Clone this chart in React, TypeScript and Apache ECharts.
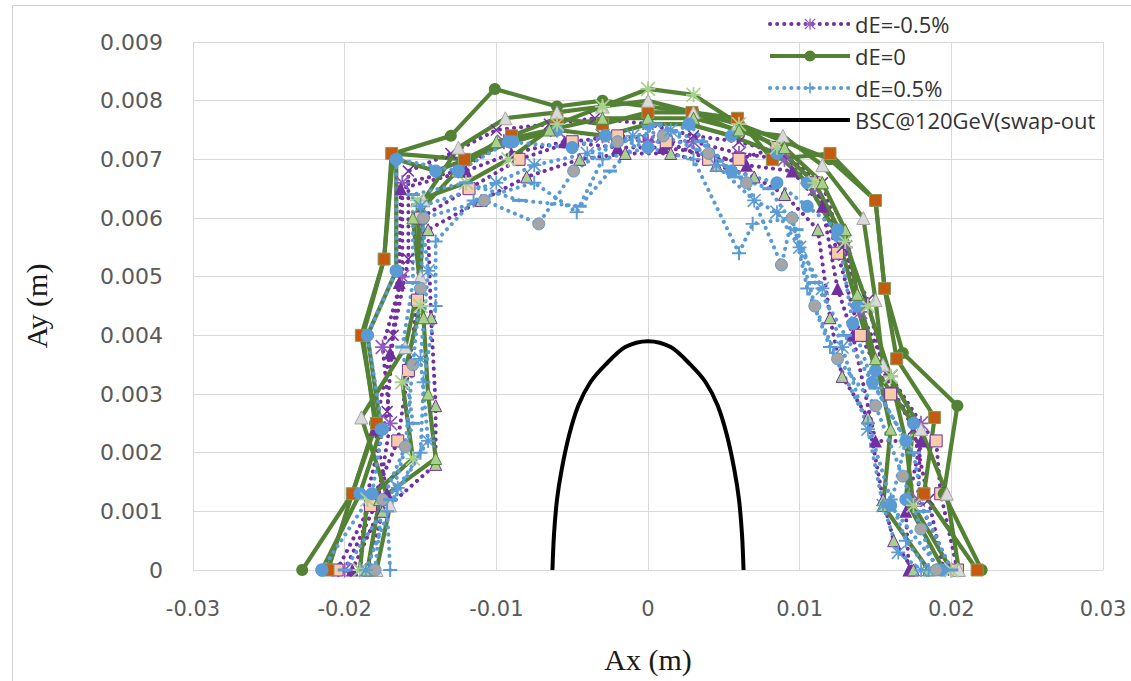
import React, { useEffect, useRef } from 'react';
import * as echarts from 'echarts';

// ---------- data ----------
const xTicks = [-0.03, -0.02, -0.01, 0, 0.01, 0.02, 0.03];
const yTicks = [0, 0.001, 0.002, 0.003, 0.004, 0.005, 0.006, 0.007, 0.008, 0.009];

const legendNames = ['dE=-0.5%', 'dE=0', 'dE=0.5%', 'BSC@120GeV(swap-out'];

// dE = -0.5% seeds
const purple1 = [[-0.0200,0],[-0.0178,0.0012],[-0.0170,0.0025],[-0.0175,0.0038],[-0.0162,0.0050],[-0.0162,0.0066],[-0.0125,0.0068],[-0.0095,0.0073],[-0.0060,0.0075],[-0.0030,0.0074],[0,0.0073],[0.0030,0.0073],[0.0060,0.0071],[0.0090,0.0070],[0.0110,0.0065],[0.0130,0.0055],[0.0140,0.0044],[0.0160,0.0033],[0.0180,0.0025],[0.0178,0.0012],[0.0200,0]];
const purple2 = [[-0.0195,0],[-0.0172,0.0013],[-0.0180,0.0024],[-0.0170,0.0037],[-0.0164,0.0049],[-0.0163,0.0065],[-0.0120,0.0068],[-0.0090,0.0071],[-0.0055,0.0073],[-0.0020,0.0072],[0.0010,0.0072],[0.0040,0.0071],[0.0065,0.0069],[0.0095,0.0068],[0.0115,0.0062],[0.0125,0.0048],[0.0135,0.0040],[0.0150,0.0022],[0.0180,0.0022],[0.0170,0.0010],[0.0172,0]];
const purple3 = [[-0.0205,0],[-0.0183,0.0011],[-0.0165,0.0022],[-0.0158,0.0034],[-0.0152,0.0046],[-0.0150,0.0060],[-0.0118,0.0065],[-0.0085,0.0070],[-0.0050,0.0073],[-0.0020,0.0074],[0.0012,0.0073],[0.0040,0.0070],[0.0060,0.0070],[0.0085,0.0072],[0.0111,0.0066],[0.0125,0.0054],[0.0140,0.0040],[0.0160,0.0030],[0.0190,0.0022],[0.0193,0.0013],[0.0204,0]];
const purple4 = [[-0.0185,0],[-0.0175,0.0010],[-0.0140,0.0018],[-0.0140,0.0028],[-0.0143,0.0043],[-0.0145,0.0058],[-0.0110,0.0063],[-0.0080,0.0067],[-0.0045,0.0070],[-0.0015,0.0071],[0.0015,0.0071],[0.0045,0.0069],[0.0070,0.0067],[0.0090,0.0064],[0.0112,0.0058],[0.0120,0.0043],[0.0128,0.0033],[0.0145,0.0026],[0.0155,0.0012],[0.0162,0.0005],[0.0175,0]];
const purple5 = [[-0.0190,0],[-0.0185,0.0013],[-0.0172,0.0027],[-0.0168,0.0040],[-0.0158,0.0053],[-0.0158,0.0068],[-0.0130,0.0071],[-0.0100,0.0075],[-0.0065,0.0076],[-0.0035,0.0077],[0,0.0076],[0.0030,0.0074],[0.0060,0.0073],[0.0088,0.0071],[0.0115,0.0066],[0.0128,0.0055],[0.0145,0.0046],[0.0155,0.0034],[0.0175,0.0024],[0.0185,0.0012],[0.0195,0]];

// dE = 0 seeds
const green1 = [[-0.0228,0],[-0.0195,0.0013],[-0.0180,0.0025],[-0.0188,0.0040],[-0.0174,0.0053],[-0.0168,0.0071],[-0.0130,0.0074],[-0.0101,0.0082],[-0.0060,0.0079],[-0.0030,0.0080],[0,0.0079],[0.0030,0.0078],[0.0060,0.0076],[0.0090,0.0073],[0.0120,0.0070],[0.0150,0.0063],[0.0156,0.0048],[0.0168,0.0037],[0.0204,0.0028],[0.0195,0.0013],[0.0220,0]];
const green2 = [[-0.0211,0],[-0.0195,0.0013],[-0.0179,0.0025],[-0.0189,0.0040],[-0.0174,0.0053],[-0.0169,0.0071],[-0.0121,0.0070],[-0.0090,0.0074],[-0.0060,0.0077],[-0.0030,0.0076],[0,0.0078],[0.0029,0.0078],[0.0059,0.0077],[0.0082,0.0070],[0.0120,0.0071],[0.0150,0.0063],[0.0156,0.0048],[0.0164,0.0036],[0.0189,0.0026],[0.0182,0.0013],[0.0217,0]];
const green3 = [[-0.0179,0],[-0.0170,0.0011],[-0.0189,0.0026],[-0.0160,0.0038],[-0.0150,0.0050],[-0.0148,0.0063],[-0.0125,0.0072],[-0.0094,0.0077],[-0.0060,0.0078],[-0.0030,0.0079],[0,0.0080],[0.0030,0.0078],[0.0057,0.0075],[0.0089,0.0074],[0.0115,0.0069],[0.0142,0.0060],[0.0150,0.0046],[0.0155,0.0035],[0.0180,0.0024],[0.0197,0.0013],[0.0205,0]];
const green4 = [[-0.0215,0],[-0.0190,0.0013],[-0.0176,0.0024],[-0.0185,0.0040],[-0.0166,0.0051],[-0.0166,0.0070],[-0.0140,0.0068],[-0.0089,0.0073],[-0.0060,0.0075],[-0.0028,0.0074],[0,0.0076],[0.0027,0.0076],[0.0055,0.0074],[0.0085,0.0071],[0.0105,0.0066],[0.0125,0.0057],[0.0138,0.0045],[0.0150,0.0034],[0.0175,0.0025],[0.0170,0.0012],[0.0195,0]];
const green5 = [[-0.0190,0],[-0.0185,0.0012],[-0.0155,0.0019],[-0.0162,0.0032],[-0.0150,0.0045],[-0.0152,0.0063],[-0.0120,0.0066],[-0.0092,0.0070],[-0.0060,0.0076],[-0.0030,0.0079],[0,0.0082],[0.0030,0.0081],[0.0060,0.0076],[0.0085,0.0072],[0.0110,0.0066],[0.0130,0.0056],[0.0145,0.0045],[0.0160,0.0033],[0.0170,0.0022],[0.0175,0.0011],[0.0200,0]];
const green6 = [[-0.0185,0],[-0.0177,0.0012],[-0.0140,0.0019],[-0.0145,0.0030],[-0.0148,0.0043],[-0.0155,0.0060],[-0.0126,0.0068],[-0.0100,0.0073],[-0.0065,0.0075],[-0.0030,0.0077],[0,0.0077],[0.0030,0.0077],[0.0060,0.0075],[0.0090,0.0072],[0.0115,0.0066],[0.0130,0.0058],[0.0138,0.0047],[0.0150,0.0036],[0.0160,0.0024],[0.0155,0.0011],[0.0185,0]];

// dE = 0.5% seeds
const blue1 = [[-0.0170,0],[-0.0172,0.0010],[-0.0150,0.0020],[-0.0148,0.0032],[-0.0140,0.0045],[-0.0140,0.0056],[-0.0115,0.0063],[-0.0075,0.0066],[-0.0047,0.0061],[-0.0030,0.0070],[0,0.0072],[0.0030,0.0070],[0.0060,0.0054],[0.0069,0.0059],[0.0095,0.0060],[0.0105,0.0048],[0.0120,0.0038],[0.0145,0.0025],[0.0160,0.0012],[0.0170,0.0005],[0.0185,0]];
const blue2 = [[-0.0215,0],[-0.0182,0.0013],[-0.0175,0.0024],[-0.0185,0.0040],[-0.0166,0.0051],[-0.0166,0.0070],[-0.0125,0.0068],[-0.0092,0.0073],[-0.0050,0.0072],[-0.0028,0.0074],[0,0.0072],[0.0027,0.0076],[0.0055,0.0068],[0.0085,0.0066],[0.0105,0.0062],[0.0125,0.0058],[0.0135,0.0042],[0.0148,0.0032],[0.0170,0.0022],[0.0160,0.0011],[0.0193,0]];
const blue3 = [[-0.0180,0],[-0.0175,0.0012],[-0.0160,0.0021],[-0.0155,0.0035],[-0.0150,0.0048],[-0.0148,0.0060],[-0.0108,0.0063],[-0.0072,0.0059],[-0.0049,0.0068],[-0.0020,0.0073],[0.0010,0.0074],[0.0040,0.0071],[0.0065,0.0066],[0.0088,0.0052],[0.0095,0.0060],[0.0110,0.0045],[0.0125,0.0036],[0.0150,0.0028],[0.0168,0.0016],[0.0180,0.0007],[0.0190,0]];
const blue4 = [[-0.0186,0],[-0.0165,0.0014],[-0.0145,0.0022],[-0.0150,0.0036],[-0.0145,0.0051],[-0.0150,0.0062],[-0.0100,0.0066],[-0.0075,0.0069],[-0.0040,0.0071],[-0.0010,0.0074],[0.0015,0.0075],[0.0045,0.0069],[0.0070,0.0063],[0.0085,0.0061],[0.0100,0.0055],[0.0115,0.0048],[0.0128,0.0038],[0.0145,0.0024],[0.0155,0.0011],[0.0165,0.0003],[0.0180,0]];
const blue5 = [[-0.0200,0],[-0.0170,0.0012],[-0.0155,0.0025],[-0.0162,0.0038],[-0.0155,0.0049],[-0.0155,0.0064],[-0.0120,0.0066],[-0.0085,0.0063],[-0.0045,0.0062],[-0.0025,0.0068],[0.0005,0.0076],[0.0035,0.0073],[0.0058,0.0067],[0.0080,0.0065],[0.0098,0.0058],[0.0110,0.0049],[0.0130,0.0040],[0.0150,0.0031],[0.0175,0.0020],[0.0182,0.0010],[0.0200,0]];

// BSC@120GeV aperture
const bsc = [[-0.0063,0],[-0.0062,0.0006],[-0.0060,0.0012],[-0.0057,0.0017],[-0.0052,0.0023],[-0.0046,0.0028],[-0.0038,0.0032],[-0.0028,0.0035],[-0.0015,0.0038],[0,0.0039],[0.0015,0.0038],[0.0028,0.0035],[0.0038,0.0032],[0.0046,0.0028],[0.0052,0.0023],[0.0057,0.0017],[0.0060,0.0012],[0.0062,0.0006],[0.0063,0]];

// ---------- styles ----------
const ASTERISK = 'path://M4.4,0H5.6V10H4.4Z M0,4.4H10V5.6H0Z M0.8,0L10,9.2L9.2,10L0,0.8Z M9.2,0L10,0.8L0.8,10L0,9.2Z';
const PLUS = 'path://M4.3,0H5.7V10H4.3Z M0,4.3H10V5.7H0Z';
const XMARK = 'path://M0.9,0L10,9.1L9.1,10L0,0.9Z M9.1,0L10,0.9L0.9,10L0,9.1Z';

const GREEN = '#548235';
const PURPLE = '#7030A0';
const BLUE = '#5B9BD5';

type Marker = { symbol: string; size: number | number[]; fill: string; border?: string };

const purpleMarkers: Marker[] = [
  { symbol: ASTERISK, size: 15, fill: '#8E5CC2' },
  { symbol: 'triangle', size: 13, fill: PURPLE },
  { symbol: 'rect', size: 12, fill: '#F8CBAD', border: PURPLE },
  { symbol: 'triangle', size: 12, fill: '#A9D18E', border: PURPLE },
  { symbol: XMARK, size: 12, fill: PURPLE },
];
const greenMarkers: Marker[] = [
  { symbol: 'circle', size: 12, fill: GREEN },
  { symbol: 'rect', size: 12, fill: '#C55A11', border: '#8A9A5B' },
  { symbol: 'triangle', size: 13, fill: '#D9D9D9', border: '#A5A5A5' },
  { symbol: 'circle', size: 13, fill: BLUE },
  { symbol: ASTERISK, size: 15, fill: '#A9D18E' },
  { symbol: 'triangle', size: 12, fill: '#A9D18E', border: GREEN },
];
const blueMarkers: Marker[] = [
  { symbol: PLUS, size: 14, fill: BLUE },
  { symbol: 'circle', size: 13, fill: BLUE },
  { symbol: 'circle', size: 12, fill: '#A5A5A5', border: BLUE },
  { symbol: ASTERISK, size: 14, fill: BLUE },
  { symbol: 'rect', size: [14, 3], fill: BLUE },
];

function seed(name: string, data: number[][], color: string, dotted: boolean, m: Marker) {
  return {
    type: 'line',
    name,
    data,
    symbol: m.symbol,
    symbolSize: m.size,
    showSymbol: true,
    itemStyle: { color: m.fill, borderColor: m.border || m.fill, borderWidth: m.border ? 1 : 0 },
    lineStyle: dotted
      ? { color, width: 4, type: [0.1, 7], cap: 'round' }
      : { color, width: 4.2 },
    emphasis: { disabled: true },
    silent: true,
  };
}

export default function App() {
  const ref = useRef<HTMLDivElement>(null);
  useEffect(() => {
    if (!ref.current) return;
    const chart = echarts.init(ref.current, undefined, { renderer: 'svg' });
    const purple = [purple1, purple2, purple3, purple4, purple5];
    const green = [green1, green2, green3, green4, green5, green6];
    const blue = [blue1, blue2, blue3, blue4, blue5];
    const series: any[] = [];
    purple.forEach((d, i) => series.push(seed(legendNames[0], d, PURPLE, true, purpleMarkers[i])));
    green.forEach((d, i) => series.push(seed(legendNames[1], d, GREEN, false, greenMarkers[i])));
    blue.forEach((d, i) => series.push(seed(legendNames[2], d, BLUE, true, blueMarkers[i])));
    series.push({
      type: 'line',
      name: legendNames[3],
      data: bsc,
      smooth: 0.3,
      symbol: 'none',
      lineStyle: { color: '#000000', width: 4 },
      itemStyle: { color: '#000000' },
      emphasis: { disabled: true },
      silent: true,
    });

    chart.setOption({
      animation: false,
      backgroundColor: '#ffffff',
      grid: { left: 193, right: 28, top: 42, bottom: 111 },
      legend: {
        data: [
          { name: legendNames[0] },
          { name: legendNames[1] },
          { name: legendNames[2] },
          { name: legendNames[3], itemStyle: { opacity: 0 } },
        ],
        orient: 'vertical',
        left: 763,
        top: 8,
        itemWidth: 80,
        itemHeight: 14,
        itemGap: 10,
        selectedMode: false,
        lineStyle: { width: 4 },
        textStyle: { fontFamily: 'Open Sans, sans-serif', fontSize: 22, color: '#333333' },
      },
      xAxis: {
        type: 'value',
        min: xTicks[0],
        max: xTicks[xTicks.length - 1],
        interval: 0.01,
        name: 'Ax (m)',
        nameLocation: 'middle',
        nameGap: 74,
        nameTextStyle: { fontFamily: 'Liberation Serif, serif', fontSize: 30, color: '#1a1a1a' },
        axisLine: { show: false },
        axisTick: { show: false },
        axisLabel: {
          margin: 28,
          fontFamily: 'DejaVu Sans, sans-serif',
          fontSize: 21,
          color: '#595959',
          formatter: (v: number) => String(+v.toFixed(2)),
        },
        splitLine: { show: true, lineStyle: { color: '#D9D9D9', width: 1 } },
      },
      yAxis: {
        type: 'value',
        min: yTicks[0],
        max: yTicks[yTicks.length - 1],
        interval: 0.001,
        name: 'Ay (m)',
        nameLocation: 'middle',
        nameGap: 142,
        nameRotate: 90,
        nameTextStyle: { fontFamily: 'Liberation Serif, serif', fontSize: 30, color: '#1a1a1a' },
        axisLine: { show: false },
        axisTick: { show: false },
        axisLabel: {
          margin: 30,
          fontFamily: 'DejaVu Sans, sans-serif',
          fontSize: 22,
          color: '#595959',
          formatter: (v: number) => String(+v.toFixed(3)),
        },
        splitLine: { show: true, lineStyle: { color: '#D9D9D9', width: 1 } },
      },
      graphic: [
        {
          type: 'rect',
          silent: true,
          shape: { x: 12.5, y: 5.5, width: 1300, height: 900 },
          style: { fill: 'none', stroke: '#D0D0D0', lineWidth: 1 },
          z: -10,
        },
      ],
      series,
    });
    return () => chart.dispose();
  }, []);
  return (
    <div
      ref={ref}
      style={{ position: 'fixed', left: 0, top: 0, width: 1131, height: 681, background: '#fff' }}
    />
  );
}
